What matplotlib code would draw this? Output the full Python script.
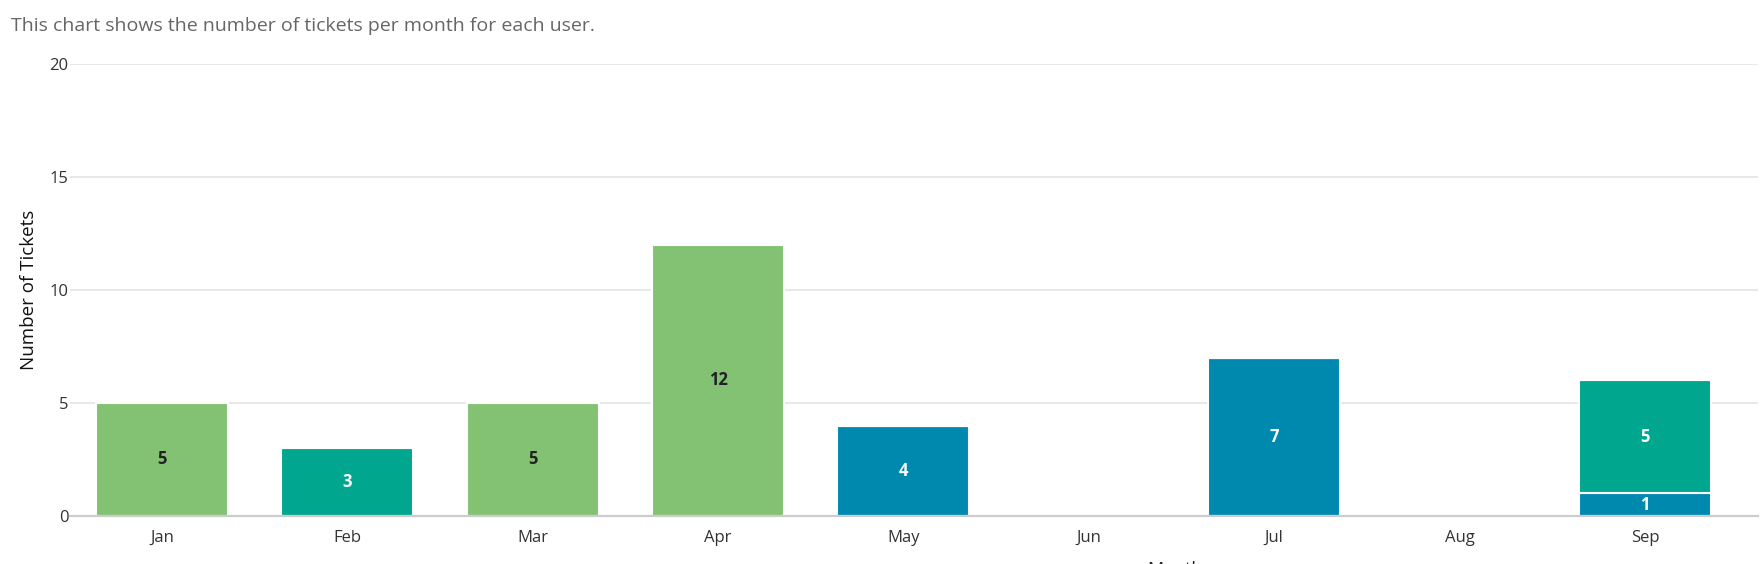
import numpy as np
import matplotlib.pyplot as plt

months = ["Jan", "Feb", "Mar", "Apr", "May", "Jun", "Jul", "Aug", "Sep"]
# tickets per user, stacked bottom to top
user_blue = [0, 0, 0, 0, 4, 0, 7, 0, 1]
user_teal = [0, 3, 0, 0, 0, 0, 0, 0, 5]
user_green = [5, 0, 5, 12, 0, 0, 0, 0, 0]

series = [
    (user_blue, "#0089af", "white"),
    (user_teal, "#00a78e", "white"),
    (user_green, "#83c273", "#222222"),
]

plt.rcParams["font.family"] = ["Open Sans", "DejaVu Sans"]

W, H = 1760, 564
fig = plt.figure(figsize=(W / 100, H / 100), dpi=100)
ax = fig.add_axes([70 / W, 1 - 516 / H, (1758 - 70) / W, (516 - 64) / H])

x = np.arange(len(months))
bottom = np.zeros(len(months))
for vals, color, txtcolor in series:
    vals = np.array(vals, dtype=float)
    ax.bar(x, vals, width=0.712, bottom=bottom, color=color,
           edgecolor="white", linewidth=1.5, zorder=3)
    for xi, v, b in zip(x, vals, bottom):
        if v > 0:
            ax.text(xi, b + v / 2, f"{int(v)}", ha="center", va="center",
                    fontsize=12, fontweight="bold", color=txtcolor, zorder=4)
    bottom += vals

ax.set_xlim(-0.496, 8.61)
ax.set_ylim(0, 20)
ax.set_yticks([0, 5, 10, 15, 20])
ax.set_xticks(x)
ax.set_xticklabels(months)
ax.grid(axis="y", color="#e6e6e6", linewidth=1.3, zorder=0)
ax.set_axisbelow(True)
for s in ["top", "right", "left"]:
    ax.spines[s].set_visible(False)
ax.spines["bottom"].set_color("#cccccc")
ax.spines["bottom"].set_linewidth(1.6)
ax.spines["bottom"].set_zorder(5)
ax.tick_params(axis="y", length=0, pad=1, labelsize=12, labelcolor="#333333")
ax.tick_params(axis="x", length=0, pad=10, labelsize=12, labelcolor="#333333")

ax.set_ylabel("Number of Tickets", fontsize=13.5, color="#111111")
ax.yaxis.set_label_coords((38 - 70) / (1758 - 70), 0.5)

fig.text(11 / W, 1 - 17 / H, "This chart shows the number of tickets per month for each user.",
         fontsize=14, color="#666666", ha="left", va="top")
fig.text(1175 / W, 1 - 561 / H, "Month", fontsize=13, color="#222222",
         ha="center", va="top")

fig.savefig("out.png", dpi=100)
